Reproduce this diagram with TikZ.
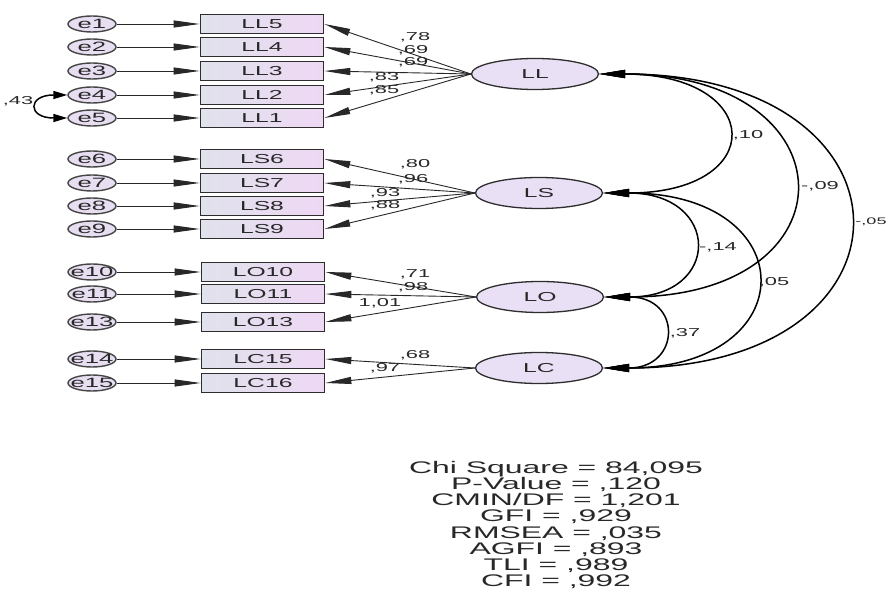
\documentclass[tikz,border=0pt]{standalone}
\usepackage{fontspec}
\newfontfamily\amosfont[FakeStretch=1.9]{Liberation Sans}
\usetikzlibrary{arrows.meta,shapes.geometric}

\begin{document}
\begin{tikzpicture}[x=1pt,y=-1pt]
		\tikzstyle{every node}=[font=\amosfont\fontsize{11.5pt}{13pt}\selectfont, text={rgb,255:red,40; green,40; blue,40}]
		\tikzstyle{errvar}=[ellipse, draw={rgb,255:red,70; green,70; blue,70}, line width=1.4pt, fill={rgb,255:red,232; green,222; blue,242}, minimum width=48pt, minimum height=16pt, inner xsep=-9pt, inner ysep=-1pt, font=\amosfont\fontsize{13.5pt}{15pt}\selectfont]
		\tikzstyle{itembox}=[rectangle, draw={rgb,255:red,45; green,45; blue,45}, line width=1.7pt, left color={rgb,255:red,224; green,226; blue,236}, right color={rgb,255:red,238; green,216; blue,244}, minimum width=123pt, minimum height=19pt, inner sep=0pt, font=\amosfont\fontsize{13pt}{14pt}\selectfont]
		\tikzstyle{latent}=[ellipse, draw={rgb,255:red,45; green,45; blue,45}, line width=1.3pt, fill={rgb,255:red,234; green,224; blue,245}, minimum width=127pt, minimum height=31pt, inner sep=0pt, font=\amosfont\fontsize{13pt}{14pt}\selectfont]
		\tikzstyle{regarrow}=[-{Triangle[length=26pt,width=7pt]}, line width=0.9pt, draw={rgb,255:red,40; green,40; blue,40}]
		\tikzstyle{covarrow}=[{Triangle[length=26pt,width=8pt]}-{Triangle[length=26pt,width=8pt]}, line width=1.5pt]
		\tikzstyle{covsmall}=[{Triangle[length=14pt,width=8pt]}-{Triangle[length=14pt,width=8pt]}, line width=1.5pt]
		\tikzstyle{coef}=[inner sep=0pt]
		\tikzstyle{fitstats}=[align=center, inner sep=0pt, font=\amosfont\fontsize{16.8pt}{16.2pt}\selectfont]
		\useasboundingbox [fill=white] (0,0) rectangle (887,612);
		\node [errvar] (e1) at (92,24) {e1};
		\node [errvar] (e2) at (92,47) {e2};
		\node [errvar] (e3) at (92,71) {e3};
		\node [errvar] (e4) at (92,95) {e4};
		\node [errvar] (e5) at (92,118) {e5};
		\node [errvar] (e6) at (92,159) {e6};
		\node [errvar] (e7) at (92,183) {e7};
		\node [errvar] (e8) at (92,206) {e8};
		\node [errvar] (e9) at (92,229) {e9};
		\node [errvar] (e10) at (92,272) {e10};
		\node [errvar] (e11) at (92,294) {e11};
		\node [errvar] (e13) at (92,322) {e13};
		\node [errvar] (e14) at (92,359) {e14};
		\node [errvar] (e15) at (92,383) {e15};
		\node [itembox] (LL5) at (262,24) {LL5};
		\node [itembox] (LL4) at (262,47) {LL4};
		\node [itembox] (LL3) at (262,71) {LL3};
		\node [itembox] (LL2) at (262,95) {LL2};
		\node [itembox] (LL1) at (262,118) {LL1};
		\node [itembox] (LS6) at (262,159) {LS6};
		\node [itembox] (LS7) at (262,183) {LS7};
		\node [itembox] (LS8) at (262,206) {LS8};
		\node [itembox] (LS9) at (262,229) {LS9};
		\node [itembox] (LO10) at (263,272) {LO10};
		\node [itembox] (LO11) at (263,294) {LO11};
		\node [itembox] (LO13) at (263,322) {LO13};
		\node [itembox] (LC15) at (263,359) {LC15};
		\node [itembox] (LC16) at (263,383) {LC16};
		\node [latent] (LL) at (535,74) {LL};
		\node [latent] (LS) at (539,193) {LS};
		\node [latent] (LO) at (540,297) {LO};
		\node [latent] (LC) at (539,368) {LC};
		\draw [regarrow] (e1) -- (LL5);
		\draw [regarrow] (e2) -- (LL4);
		\draw [regarrow] (e3) -- (LL3);
		\draw [regarrow] (e4) -- (LL2);
		\draw [regarrow] (e5) -- (LL1);
		\draw [regarrow] (e6) -- (LS6);
		\draw [regarrow] (e7) -- (LS7);
		\draw [regarrow] (e8) -- (LS8);
		\draw [regarrow] (e9) -- (LS9);
		\draw [regarrow] (e10) -- (LO10);
		\draw [regarrow] (e11) -- (LO11);
		\draw [regarrow] (e13) -- (LO13);
		\draw [regarrow] (e14) -- (LC15);
		\draw [regarrow] (e15) -- (LC16);
		\draw [regarrow] (LL.west) -- (LL5.east);
		\draw [regarrow] (LL.west) -- (LL4.east);
		\draw [regarrow] (LL.west) -- (LL3.east);
		\draw [regarrow] (LL.west) -- (LL2.east);
		\draw [regarrow] (LL.west) -- (LL1.east);
		\draw [regarrow] (LS.west) -- (LS6.east);
		\draw [regarrow] (LS.west) -- (LS7.east);
		\draw [regarrow] (LS.west) -- (LS8.east);
		\draw [regarrow] (LS.west) -- (LS9.east);
		\draw [regarrow] (LO.west) -- (LO10.east);
		\draw [regarrow] (LO.west) -- (LO11.east);
		\draw [regarrow] (LO.west) -- (LO13.east);
		\draw [regarrow] (LC.west) -- (LC15.east);
		\draw [regarrow] (LC.west) -- (LC16.east);
		\node [coef] (cLL5) at (415,37) {,78};
		\node [coef] (cLL4) at (413,50) {,69};
		\node [coef] (cLL3) at (413,62) {,69};
		\node [coef] (cLL2) at (384,77) {,83};
		\node [coef] (cLL1) at (384,90) {,85};
		\node [coef] (cLS6) at (415,164) {,80};
		\node [coef] (cLS7) at (413,179) {,96};
		\node [coef] (cLS8) at (385,193) {,93};
		\node [coef] (cLS9) at (385,205) {,88};
		\node [coef] (cLO10) at (415,274) {,71};
		\node [coef] (cLO11) at (413,287) {,98};
		\node [coef] (cLO13) at (380,303) {1,01};
		\node [coef] (cLC15) at (415,355) {,68};
		\node [coef] (cLC16) at (385,368) {,97};
		\draw [covsmall] (e4.west) .. controls +(-40,0) and +(-40,0) .. (e5.west);
		\node [coef] (c45) at (18,101) {,43};
		\draw [covarrow] (LL.east) .. controls +(166,0) and +(166,0) .. (LS.east);
		\draw [covarrow] (LL.east) .. controls +(254,0) and +(254,0) .. (LO.east);
		\draw [covarrow] (LL.east) .. controls +(328,0) and +(328,0) .. (LC.east);
		\draw [covarrow] (LS.east) .. controls +(118,0) and +(118,0) .. (LO.east);
		\draw [covarrow] (LS.east) .. controls +(202,0) and +(202,0) .. (LC.east);
		\draw [covarrow] (LO.east) .. controls +(78,0) and +(78,0) .. (LC.east);
		\node [coef] (cLLLS) at (748,135) {,10};
		\node [coef] (cLLLO) at (820,186) {-,09};
		\node [coef, font=\amosfont\fontsize{9.5pt}{11pt}\selectfont] (cLLLC) at (871,222) {-,05};
		\node [coef] (cLSLO) at (718,247) {-,14};
		\node [coef] (cLSLC) at (774,282) {,05};
		\node [coef] (cLOLC) at (685,333) {,37};
		\node [fitstats] (fit) at (556,525) {Chi Square = 84,095\\P-Value = ,120\\CMIN/DF = 1,201\\GFI = ,929\\RMSEA = ,035\\AGFI = ,893\\TLI = ,989\\CFI = ,992};
	\end{tikzpicture}
\end{document}
